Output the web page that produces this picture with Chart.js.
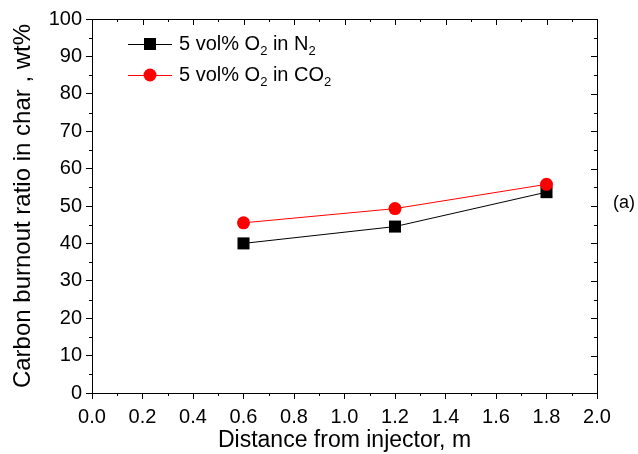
<!DOCTYPE html>
<html>
<head>
<meta charset="utf-8">
<script src="https://cdn.jsdelivr.net/npm/chart.js@4/dist/chart.umd.min.js"></script>
<style>
  html, body { margin: 0; padding: 0; background: #fff; }
  #wrap { width: 638px; height: 454px; position: relative; }
</style>
</head>
<body>
<div id="wrap"><canvas id="grafico"></canvas></div>
<script>
// distance from the injector (m)
var distancia = [0.6, 1.2, 1.8];
// carbon burnout ratio (wt%)
var queimaN2 = [40.0, 44.5, 53.7];
var queimaCO2 = [45.5, 49.3, 55.8];

var nomes = [
    ['5 vol% O', '2', ' in N', '2'],
    ['5 vol% O', '2', ' in CO', '2']
];
var cores = ['#000000', '#ff0000'];
var marcadores = ['rect', 'circle'];

var fonte = 'Arial, "Liberation Sans", sans-serif';

function pontos(xs, ys) {
    var lista = [];
    for (var i = 0; i < xs.length; i++) {
        lista.push({ x: xs[i], y: ys[i] });
    }
    return lista;
}

// frame, minor ticks, legend and the "(a)" mark
var extras = {
    id: 'extras',
    afterDraw: function (chart) {
        var ctx = chart.ctx;
        var a = chart.chartArea;
        var sx = chart.scales.x;
        var sy = chart.scales.y;
        ctx.save();
        ctx.strokeStyle = '#000';
        ctx.lineWidth = 1;
        ctx.beginPath();
        ctx.moveTo(a.left, a.top + 0.5);
        ctx.lineTo(a.right + 0.5, a.top + 0.5);
        ctx.lineTo(a.right + 0.5, a.bottom);
        ctx.stroke();

        ctx.beginPath();
        for (var v = 0; v <= 2.0001; v += 0.1) {
            var px = Math.round(sx.getPixelForValue(v)) + 0.5;
            var maior = Math.abs(v * 5 - Math.round(v * 5)) < 1e-6;
            var len = maior ? 6 : 3;
            if (!maior) {
                ctx.moveTo(px, a.bottom);
                ctx.lineTo(px, a.bottom + len);
            }
            ctx.moveTo(px, a.top);
            ctx.lineTo(px, a.top + len);
        }
        for (var w = 0; w <= 100; w += 5) {
            var py = Math.round(sy.getPixelForValue(w)) + 0.5;
            var len2 = (w % 10 === 0) ? 6 : 3;
            if (w % 10 !== 0) {
                ctx.moveTo(a.left, py);
                ctx.lineTo(a.left - len2, py);
            }
            ctx.moveTo(a.right, py);
            ctx.lineTo(a.right - len2, py);
        }
        ctx.stroke();

        // legend
        ctx.textBaseline = 'middle';
        for (var i = 0; i < nomes.length; i++) {
            var ly = 44 + i * 31;
            ctx.strokeStyle = cores[i];
            ctx.beginPath();
            ctx.moveTo(128, ly + 0.5);
            ctx.lineTo(172, ly + 0.5);
            ctx.stroke();
            ctx.fillStyle = cores[i];
            if (marcadores[i] === 'rect') {
                ctx.fillRect(144, ly - 6, 12, 12);
            } else {
                ctx.beginPath();
                ctx.arc(150, ly, 6.5, 0, Math.PI * 2);
                ctx.fill();
            }
            ctx.fillStyle = '#000';
            var tx = 179;
            for (var k = 0; k < nomes[i].length; k++) {
                var sub = k % 2 === 1;
                ctx.font = (sub ? 13 : 20) + 'px ' + fonte;
                ctx.fillText(nomes[i][k], tx, sub ? ly + 7 : ly);
                tx += ctx.measureText(nomes[i][k]).width;
            }
        }

        ctx.font = '18px ' + fonte;
        ctx.fillText('(a)', 613, 203);
        ctx.restore();
    }
};

var ctx = document.getElementById('grafico');
new Chart(ctx, {
    type: 'scatter',
    data: {
        datasets: [{
            label: '5 vol% O2 in N2',
            data: pontos(distancia, queimaN2),
            showLine: true,
            borderColor: cores[0],
            backgroundColor: cores[0],
            borderWidth: 1,
            pointStyle: 'rect',
            pointRadius: 8.5,
            pointBorderWidth: 0,
            order: 1
        }, {
            label: '5 vol% O2 in CO2',
            data: pontos(distancia, queimaCO2),
            showLine: true,
            borderColor: cores[1],
            backgroundColor: cores[1],
            borderWidth: 1,
            pointStyle: 'circle',
            pointRadius: 6.5,
            pointBorderWidth: 0,
            order: 0
        }]
    },
    options: {
        responsive: true,
        maintainAspectRatio: false,
        animation: false,
        layout: { padding: { top: 19, right: 41, left: 0, bottom: 0 } },
        plugins: {
            legend: { display: false },
            tooltip: { enabled: false }
        },
        scales: {
            x: {
                type: 'linear',
                min: 0,
                max: 2,
                afterFit: function (s) { s.height = 61; },
                border: { display: true, color: '#000', width: 1 },
                grid: { drawOnChartArea: false, drawTicks: true, tickLength: 6, color: '#000' },
                ticks: {
                    stepSize: 0.2,
                    padding: 6,
                    color: '#000',
                    font: { family: fonte, size: 20 },
                    callback: function (v) { return v.toFixed(1); }
                },
                title: {
                    display: true,
                    text: 'Distance from injector, m',
                    color: '#000',
                    font: { family: fonte, size: 23 },
                    padding: { top: 0, bottom: 0 }
                }
            },
            y: {
                min: 0,
                max: 100,
                afterFit: function (s) { s.width = 92; },
                border: { display: true, color: '#000', width: 1 },
                grid: { drawOnChartArea: false, drawTicks: true, tickLength: 6, color: '#000' },
                ticks: {
                    stepSize: 10,
                    padding: 4,
                    color: '#000',
                    font: { family: fonte, size: 20 }
                },
                title: {
                    display: true,
                    text: 'Carbon burnout ratio in char , wt%',
                    color: '#000',
                    font: { family: fonte, size: 24 },
                    padding: { top: 9, bottom: 0 }
                }
            }
        }
    },
    plugins: [extras]
});
</script>
</body>
</html>
